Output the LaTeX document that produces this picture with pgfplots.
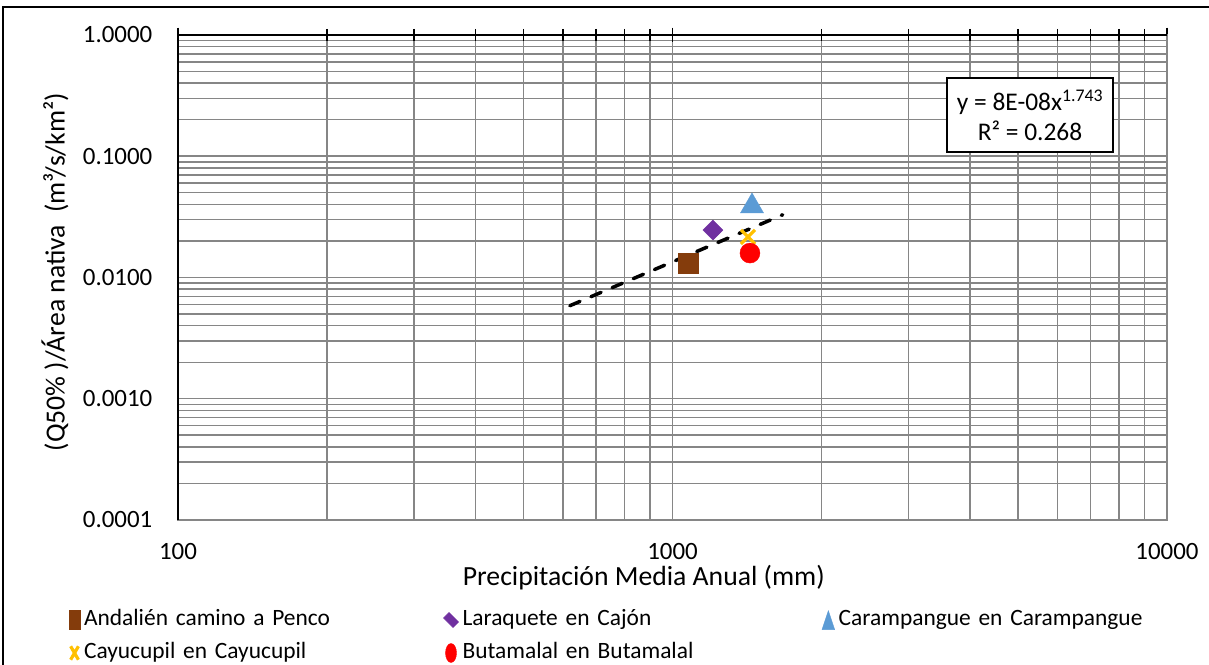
\documentclass[border=0pt]{standalone}
\usepackage{fontspec}
\setmainfont{Carlito}
\usepackage{pgfplots}
\pgfplotsset{compat=1.18}

\definecolor{gridgray}{HTML}{868686}
\definecolor{cAndalien}{HTML}{843C0C}
\definecolor{cLaraquete}{HTML}{7030A0}
\definecolor{cCarampangue}{HTML}{5B9BD5}
\definecolor{cCayucupil}{HTML}{FFC000}
\definecolor{cButamalal}{HTML}{FF0000}

\newcommand{\tickfont}{\fontsize{25}{30}\selectfont}
\newcommand{\legfont}{\fontsize{23.5}{28}\selectfont}
\newcommand{\labelfont}{\fontsize{27.8}{32}\selectfont}

\begin{document}
\begin{tikzpicture}[x=1bp,y=1bp]
\useasboundingbox (0,0) rectangle (1209,665);
% chart area frame (top and left edges)
\draw[line width=1.5bp] (3,0) -- (3,658) -- (1209,658);
\begin{axis}[
  at={(178bp,145bp)}, anchor=south west,
  scale only axis, width=989bp, height=485bp,
  xmode=log, ymode=log,
  xmin=100, xmax=10000, ymin=0.0001, ymax=1,
  xtick={100,1000,10000},
  xticklabels={100,1000,10000},
  minor xtick={200,300,400,500,600,700,800,900,2000,3000,4000,5000,6000,7000,8000,9000},
  ytick={0.0001,0.001,0.01,0.1,1},
  yticklabels={0.0001,0.0010,0.0100,0.1000,1.0000},
  minor ytick={0.0002,0.0003,0.0004,0.0005,0.0006,0.0007,0.0008,0.0009,
               0.002,0.003,0.004,0.005,0.006,0.007,0.008,0.009,
               0.02,0.03,0.04,0.05,0.06,0.07,0.08,0.09,
               0.2,0.3,0.4,0.5,0.6,0.7,0.8,0.9},
  grid=both,
  major grid style={gridgray, line width=1.5bp},
  minor grid style={gridgray, line width=1.5bp},
  axis line style={gridgray, line width=1.5bp},
  xtick pos=right, xticklabel pos=left,
  ytick pos=left,
  ytick style={draw=none},
  every minor y tick/.append style={draw=none},
  xtick style={black, line width=1.5bp},
  tick align=center,
  major tick length=15bp, minor tick length=12bp,
  xticklabel style={font=\tickfont, inner sep=0pt, anchor=north, yshift=-15.5bp},
  yticklabel style={font=\tickfont, inner sep=0pt, anchor=east, xshift=-18bp},
  xlabel={Precipitación Media Anual (mm)},
  ylabel={(Q50\% )/Área nativa\ \ (m³/s/km²)},
  x label style={at={(axis description cs:0.471,-0.1196)}, anchor=center, font=\labelfont},
  y label style={at={(axis description cs:-0.1244,0.511)}, anchor=center, font=\labelfont},
  legend columns=3,
  legend cell align=left,
  legend image code/.code={
    \draw[mark repeat=2, mark phase=2, #1,
          every mark/.append style={xscale=0.55,yscale=0.95}]
      plot coordinates {(0bp,0bp) (6bp,0bp) (12bp,0bp)};
  },
  legend style={
    at={(axis description cs:-0.1102,-0.1804)}, anchor=north west,
    draw=none, fill=none, inner sep=0pt, outer sep=0pt,
    font=\legfont,
    column sep=2bp, row sep=8bp,
    /tikz/every even column/.append style={column sep=27.5bp},
    nodes={inner sep=2bp, text width=330bp, text height=16bp, text depth=5bp},
  },
  after end axis/.code={
    \draw[black, line width=1.8bp] (rel axis cs:0,0) -- (rel axis cs:0,1) -- (rel axis cs:1,1);
  },
]
\addplot[only marks, mark=square*, mark size=10bp, color=cAndalien]
  coordinates {(1075,0.0132)};
\addlegendentry{Andalién camino a Penco}
\addplot[only marks, mark=square*, mark size=7.07bp, color=cLaraquete, mark options={rotate=45}]
  coordinates {(1207,0.0246)};
\addlegendentry{Laraquete en Cajón}
\addplot[only marks, mark=triangle*, mark size=13.3bp, color=cCarampangue, mark options={yshift=-3.3bp}]
  coordinates {(1448,0.0412)};
\addlegendentry{Carampangue en Carampangue}
\addplot[only marks, mark=x, mark size=10bp, color=cCayucupil, line width=3.2bp]
  coordinates {(1421,0.0216)};
\addlegendentry{Cayucupil en Cayucupil}
\addplot[only marks, mark=*, mark size=10bp, color=cButamalal]
  coordinates {(1434,0.0159)};
\addlegendentry{Butamalal en Butamalal}
% power trendline y = 8E-08 x^1.743, straight on log-log axes
\addplot[forget plot, black, line width=3.5bp, line cap=round, dash pattern=on 11bp off 12bp]
  coordinates {(620,0.00585) (1670,0.0329)};
\node[draw=black, line width=1.5bp, fill=white, align=center,
      font=\fontsize{25.5}{30}\selectfont,
      minimum width=166bp, minimum height=74bp, inner sep=0pt]
  at (rel axis cs:0.8615,0.835) {y = 8E-08x\textsuperscript{1.743}\\R² = 0.268};
\end{axis}
\end{tikzpicture}
\end{document}
